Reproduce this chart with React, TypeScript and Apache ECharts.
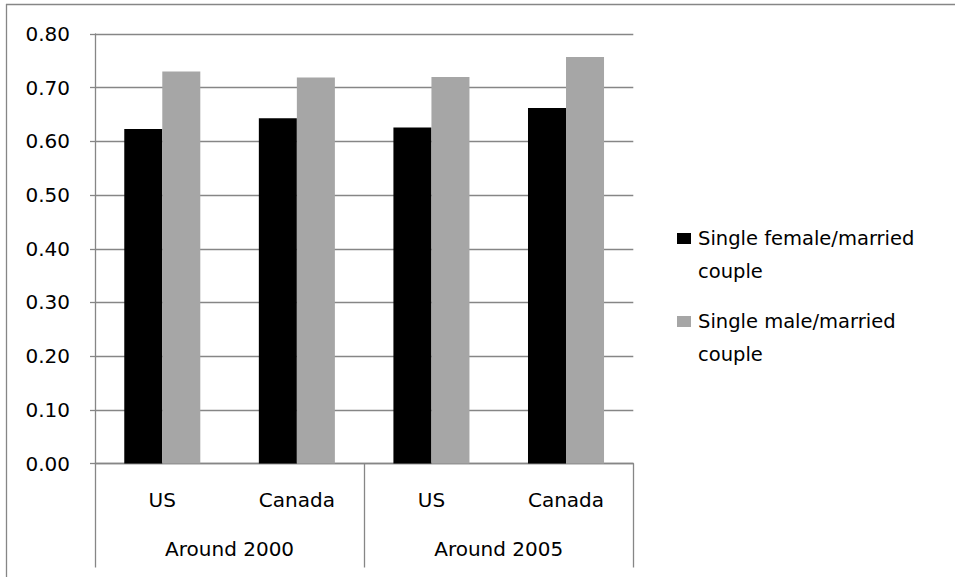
import React, { useEffect, useRef } from "react";
import * as echarts from "echarts";

const countries = ["US", "Canada", "US", "Canada"];
const periods = ["Around 2000", "Around 2005"];
const seriesNames = ["Single female/married couple", "Single male/married couple"];
const femaleValues = [0.623, 0.643, 0.626, 0.662];
const maleValues = [0.730, 0.719, 0.720, 0.757];
const seriesColors = ["#000000", "#a6a6a6"];

const FONT = "DejaVu Sans";
const LINE = "#868686";

export default function App() {
  const ref = useRef<HTMLDivElement>(null);
  useEffect(() => {
    if (!ref.current) return;
    const chart = echarts.init(ref.current, undefined, { renderer: "svg" });
    chart.setOption({
      animation: false,
      backgroundColor: "#ffffff",
      textStyle: { fontFamily: FONT },
      grid: { left: 95, right: 321.7, top: 34, bottom: 113.5, containLabel: false },
      legend: {
        orient: "vertical",
        left: 677,
        top: 189,
        padding: 0,
        itemGap: -16,
        itemWidth: 14,
        itemHeight: 11,
        icon: "rect",
        data: seriesNames,
        formatter: (name: string) => "\n" + name.replace("/married ", "/married\n"),
        textStyle: {
          fontFamily: FONT,
          fontSize: 19.5,
          color: "#000000",
          lineHeight: 33,
          padding: [0, 0, 0, 2],
        },
      },
      xAxis: [
        {
          type: "category",
          data: countries,
          position: "bottom",
          axisLine: { show: false },
          axisTick: { show: false },
          axisLabel: { margin: 26.5, fontSize: 20, color: "#000000", fontFamily: FONT, interval: 0 },
          splitLine: { show: false },
        },
        {
          type: "category",
          data: periods,
          position: "bottom",
          axisLine: { show: true, lineStyle: { color: LINE, width: 1.3 } },
          axisTick: { show: true, length: 104, interval: 0, alignWithLabel: false, lineStyle: { color: LINE, width: 1.3 } },
          axisLabel: { margin: 75.5, fontSize: 20, color: "#000000", fontFamily: FONT, interval: 0 },
          splitLine: { show: false },
        },
      ],
      yAxis: {
        type: "value",
        min: 0,
        max: 0.8,
        interval: 0.1,
        axisLine: { show: true, lineStyle: { color: LINE, width: 1.3 } },
        axisTick: { show: true, length: 5, lineStyle: { color: LINE, width: 1.3 } },
        axisLabel: {
          margin: 25,
          fontSize: 20,
          color: "#000000",
          fontFamily: FONT,
          formatter: (v: number) => v.toFixed(2),
        },
        splitLine: { show: true, lineStyle: { color: LINE, width: 1.3 } },
      },
      series: [
        {
          name: seriesNames[0],
          type: "bar",
          xAxisIndex: 0,
          data: femaleValues,
          barGap: "0%",
          barCategoryGap: "43.5%",
          itemStyle: { color: seriesColors[0] },
        },
        {
          name: seriesNames[1],
          type: "bar",
          xAxisIndex: 0,
          data: maleValues,
          barGap: "0%",
          barCategoryGap: "43.5%",
          itemStyle: { color: seriesColors[1] },
        },
      ],
      graphic: [
        { type: "line", shape: { x1: 6, y1: 4.5, x2: 955, y2: 4.5 }, style: { stroke: LINE, lineWidth: 1.3 }, silent: true },
        { type: "line", shape: { x1: 6.5, y1: 4, x2: 6.5, y2: 577 }, style: { stroke: LINE, lineWidth: 1.3 }, silent: true },
      ],
    });
    return () => chart.dispose();
  }, []);
  return (
    <div
      ref={ref}
      style={{ position: "fixed", left: 0, top: 0, width: 955, height: 577 }}
    />
  );
}
